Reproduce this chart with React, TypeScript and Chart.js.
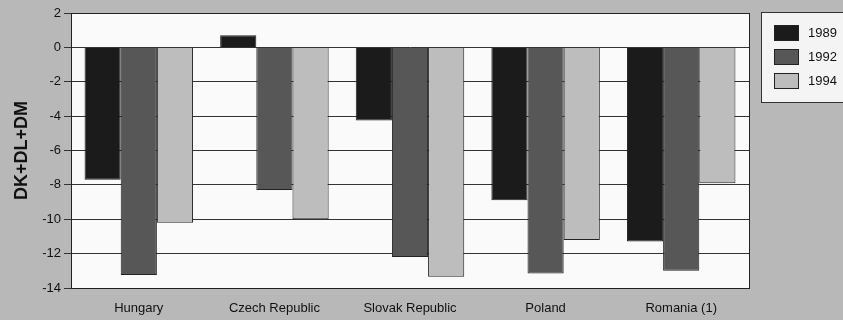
import React, { useEffect, useRef } from "react";
import { Chart, registerables } from "chart.js";

Chart.register(...registerables);

const categories = ["Hungary", "Czech Republic", "Slovak Republic", "Poland", "Romania (1)"];
const seriesLabels = ["1989", "1992", "1994"];
const values1989 = [-7.7, 0.7, -4.25, -8.9, -11.3];
const values1992 = [-13.25, -8.3, -12.2, -13.15, -13.0];
const values1994 = [-10.2, -10.0, -13.35, -11.2, -7.9];
const seriesColors = ["#1b1b1b", "#575757", "#bdbdbd"];
const yTitle = "DK+DL+DM";

const FONT = "'Liberation Sans', Arial, sans-serif";

const framePlugin = {
  id: "frame",
  beforeDraw(chart: any) {
    const { ctx, chartArea: a, width, height } = chart;
    ctx.save();
    ctx.fillStyle = "#b8b8b8";
    ctx.fillRect(0, 0, width, height);
    ctx.fillStyle = "#fafafa";
    ctx.fillRect(a.left, a.top, a.right - a.left, a.bottom - a.top);
    ctx.restore();
  },
  afterDraw(chart: any) {
    const { ctx, chartArea: a } = chart;
    ctx.save();
    ctx.strokeStyle = "#222";
    ctx.lineWidth = 1;
    ctx.strokeRect(Math.round(a.left) + 0.5, Math.round(a.top) + 0.5, Math.round(a.right - a.left), Math.round(a.bottom - a.top));
    // legend
    const lx = a.right + 12;
    const ly = a.top - 1;
    ctx.fillStyle = "#f4f4f4";
    ctx.fillRect(lx, ly, 120, 90);
    ctx.strokeStyle = "#333";
    ctx.strokeRect(lx + 0.5, ly + 0.5, 120, 90);
    chart.data.datasets.forEach((ds: any, i: number) => {
      const cy = ly + 20 + i * 24;
      ctx.fillStyle = ds.backgroundColor;
      ctx.fillRect(lx + 13, cy - 7, 24, 15);
      ctx.strokeStyle = "#222";
      ctx.strokeRect(lx + 13.5, cy - 6.5, 24, 15);
      ctx.fillStyle = "#111";
      ctx.font = `13px ${FONT}`;
      ctx.textBaseline = "middle";
      ctx.textAlign = "left";
      ctx.fillText(ds.label, lx + 47, cy + 1);
    });
    ctx.restore();
  },
};

export default function App() {
  const ref = useRef<HTMLCanvasElement>(null);
  useEffect(() => {
    document.body.style.margin = "0";
    const chart = new Chart(ref.current!, {
      type: "bar",
      data: {
        labels: categories,
        datasets: [values1989, values1992, values1994].map((d, i) => ({
          label: seriesLabels[i],
          data: d,
          backgroundColor: seriesColors[i],
          borderColor: "#222",
          borderWidth: 1,
          categoryPercentage: 0.8,
          barPercentage: 1.0,
        })),
      },
      options: {
        animation: false,
        responsive: false,
        devicePixelRatio: 1,
        layout: { padding: { top: 13, right: 94, left: 0, bottom: 0 } },
        plugins: { legend: { display: false }, tooltip: { enabled: false } },
        scales: {
          x: {
            grid: { display: false },
            border: { display: true, color: "#222" },
            ticks: { color: "#111", font: { family: FONT, size: 13 }, padding: 5, maxRotation: 0 },
            afterFit(s: any) { s.height = 32; },
          },
          y: {
            min: -14,
            max: 2,
            ticks: { stepSize: 2, color: "#111", font: { family: FONT, size: 13 }, padding: 3 },
            grid: { color: "#333", lineWidth: 1, tickLength: 7 },
            border: { display: true, color: "#222" },
            title: { display: true, text: yTitle, color: "#111", font: { family: FONT, size: 18, weight: "bold" }, padding: { top: 11, bottom: 4 } },
            afterFit(s: any) { s.width = 71; },
          },
        },
      },
      plugins: [framePlugin],
    });
    return () => chart.destroy();
  }, []);
  return <canvas ref={ref} width={843} height={320} style={{ display: "block" }} />;
}
